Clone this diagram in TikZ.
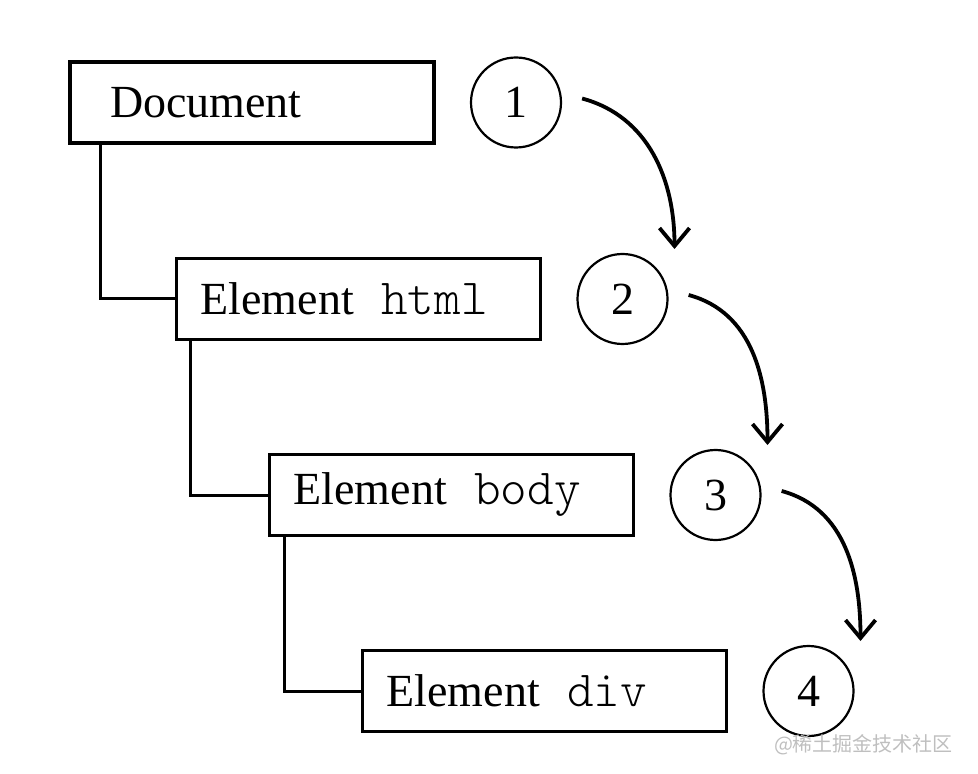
\documentclass[tikz,border=0pt]{standalone}
\usepackage{fontspec}
\setmainfont{Liberation Serif}
\setmonofont[Scale = 1.1]{Latin Modern Mono Light}
\newfontfamily\cjk{Noto Sans CJK SC}
\usetikzlibrary{positioning, arrows.meta}

\begin{document}
\begin{tikzpicture} [x = 0.5pt, y = 0.5pt, on grid, font = \fontsize{23}{27}\selectfont,
        elem/.style = {draw, line width = 1.6pt, text width = 158pt, inner xsep = 12pt,
            minimum height = 40.5pt, align = left},
        num/.style = {draw, circle, line width = 1.1pt, minimum size = 45pt, inner sep = 0pt},
        tree/.style = {line width = 1.5pt},
        flow/.style = {-{Straight Barb[length = 9pt, width = 15pt]}, line width = 1.9pt}]

        \useasboundingbox (0,0) rectangle (978,-774);

        \node (doc) [elem] at (252,-102.5) {\hspace{8pt}Document}; \node (html)
        [elem, below right = 98.25pt and 53.25pt of doc] {Element\hspace{0.6em}\texttt{html}};
        \node (body) [elem, below right = 98pt and 46.5pt of html] {Element\hspace{0.6em}\texttt{body}};
        \node (div) [elem, below right = 98pt and 46.5pt of body] {Element\hspace{0.6em}\texttt{div}};

        \node (c1) [num, right = 132pt of doc] {1}; \node (c2) [num, right = 132pt of html] {2};
        \node (c3) [num, right = 132pt of body] {3}; \node (c4) [num, right = 132pt of div] {4};

        \draw [tree] ([xshift = 16pt]doc.south west) |- (html.west);
        \draw [tree] ([xshift = 8pt]html.south west) |- (body.west);
        \draw [tree] ([xshift = 8.5pt]body.south west) |- (div.west);

        \foreach \a/\b in {c1/c2, c2/c3, c3/c4}
            \draw [flow] ([shift = {(10pt,2pt)}]\a.east) to [out = -15, in = 90]
            ([shift = {(26pt,25pt)}]\b.center);

        \node (mark) [anchor = east, text = black!25, font = \cjk\fontsize{10}{12}\selectfont]
            at (960,-745) {@稀土掘金技术社区};
    \end{tikzpicture}
\end{document}
